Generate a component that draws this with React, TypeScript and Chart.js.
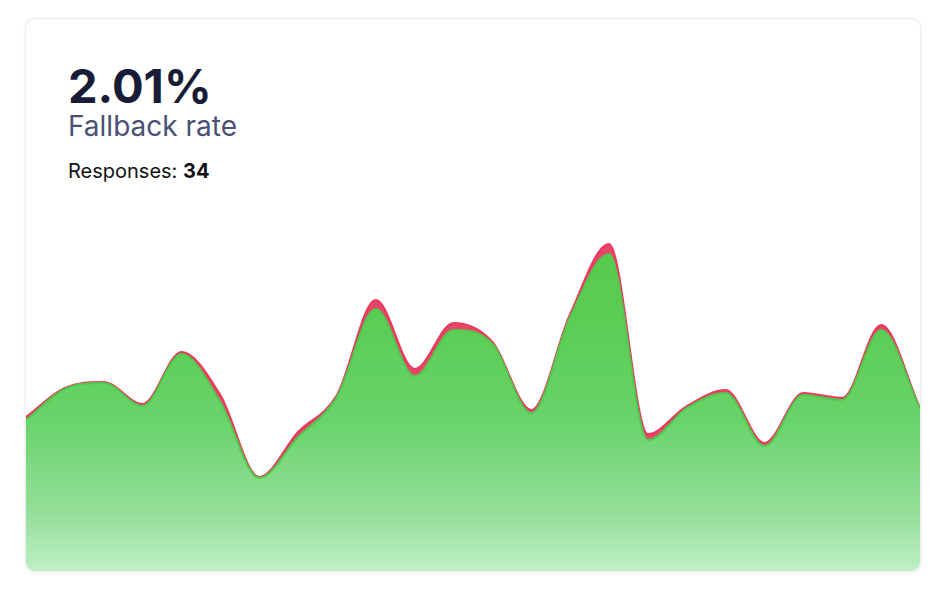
import React, { useEffect, useRef } from "react";
import { Chart, registerables } from "chart.js";

Chart.register(...registerables);

const labels = [
  "01", "02", "03", "04", "05", "06", "07", "08", "09", "10", "11", "12",
  "13", "14", "15", "16", "17", "18", "19", "20", "21", "22", "23", "24",
];
const handled = [
  15.1, 18.2, 18.8, 16.5, 21.7, 16.9, 9.3, 13.4, 17.4, 26.2, 19.5, 24.1,
  22.7, 15.8, 25.4, 31.7, 13.1, 16.3, 17.8, 12.5, 17.6, 17.1, 24.1, 16.2,
];
const fallback = [
  0.3, 0.1, 0.1, 0.2, 0.2, 0.7, 0.1, 0.5, 0.2, 0.9, 0.7, 0.7,
  0.2, 0.3, 0.3, 1.0, 0.6, 0.2, 0.3, 0.3, 0.2, 0.2, 0.5, 0.1,
];
const yMax = 38;

function ChartCanvas() {
  const ref = useRef<HTMLCanvasElement | null>(null);
  useEffect(() => {
    if (!ref.current) return;
    const chart = new Chart(ref.current, {
      type: "line",
      data: {
        labels,
        datasets: [
          {
            label: "Handled",
            data: handled,
            borderColor: "#4fca4c",
            borderWidth: 2,
            fill: "origin",
            backgroundColor: (ctx: any) => {
              const { chart } = ctx;
              const area = chart.chartArea;
              if (!area) return "#5fcf5a";
              const g = chart.ctx.createLinearGradient(0, area.top, 0, area.bottom);
              g.addColorStop(0, "#52c946");
              g.addColorStop(0.35, "#5ccd55");
              g.addColorStop(0.6, "#68d36a");
              g.addColorStop(0.85, "#95df9b");
              g.addColorStop(1, "#bff0c6");
              return g;
            },
            pointRadius: 0,
            cubicInterpolationMode: "monotone",
            stack: "s",
          },
          {
            label: "Fallback",
            data: fallback,
            borderColor: "#e63b5c",
            borderWidth: 2,
            backgroundColor: "#e8456a",
            fill: "-1",
            pointRadius: 0,
            cubicInterpolationMode: "monotone",
            stack: "s",
          },
        ],
      },
      options: {
        animation: false,
        responsive: false,
        maintainAspectRatio: false,
        layout: { padding: 0 },
        plugins: { legend: { display: false }, tooltip: { enabled: false } },
        scales: {
          x: { display: false, offset: false },
          y: { display: false, stacked: true, min: 0, max: yMax },
        },
      },
    });
    return () => chart.destroy();
  }, []);
  return (
    <canvas
      ref={ref}
      width={894}
      height={380}
      style={{ position: "absolute", left: 0, bottom: 0, width: 894, height: 380 }}
    />
  );
}

export default function App() {
  return (
    <div
      style={{
        position: "absolute",
        left: 25,
        top: 18,
        width: 896,
        height: 554,
        borderRadius: 10,
        border: "1px solid #ececec",
        boxSizing: "border-box",
        boxShadow: "0 1px 4px rgba(0,0,0,0.06)",
        overflow: "hidden",
        background: "#fff",
        fontFamily: "Inter, 'Noto Sans', sans-serif",
      }}
    >
      <div
        style={{
          position: "absolute",
          left: 42,
          top: 39,
          fontSize: 47,
          fontWeight: 700,
          color: "#181c36",
          lineHeight: "56px",
          whiteSpace: "nowrap",
        }}
      >
        2.01%
      </div>
      <div
        style={{
          position: "absolute",
          left: 42,
          top: 90,
          fontSize: 28,
          fontWeight: 400,
          color: "#4a5076",
          lineHeight: "34px",
          whiteSpace: "nowrap",
        }}
      >
        Fallback rate
      </div>
      <div
        style={{
          position: "absolute",
          left: 42,
          top: 140,
          fontSize: 20,
          color: "#111",
          lineHeight: "24px",
          whiteSpace: "nowrap",
        }}
      >
        Responses: <b>34</b>
      </div>
      <ChartCanvas />
    </div>
  );
}
